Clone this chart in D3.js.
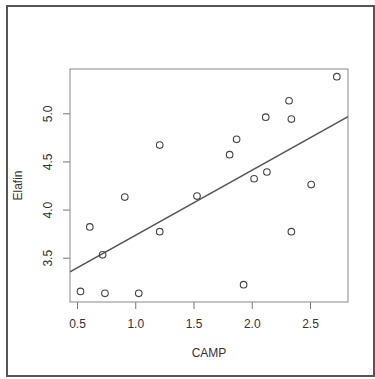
<!DOCTYPE html>
<html>
<head>
<meta charset="utf-8">
<script src="https://cdn.jsdelivr.net/npm/d3@7"></script>
<style>
  body { margin: 0; background: #fff; }
  text { font-family: "Liberation Sans", Arial, sans-serif; fill: #333; }
</style>
</head>
<body>
<div id="vis"></div>
<script>
// values
const camp   = [0.53, 0.61, 0.72, 0.74, 0.91, 1.03, 1.21, 1.21, 1.53, 1.81,
                1.87, 1.93, 2.02, 2.12, 2.13, 2.32, 2.34, 2.34, 2.51, 2.73];
const elafin = [3.15, 3.82, 3.53, 3.13, 4.13, 3.13, 4.67, 3.77, 4.14, 4.57,
                4.73, 3.22, 4.32, 4.96, 4.39, 5.13, 4.94, 3.77, 4.26, 5.38];
const xTicks = [0.5, 1.0, 1.5, 2.0, 2.5];
const yTicks = [3.5, 4.0, 4.5, 5.0];
// fitted line (intercept, slope) as drawn
const fit = [3.057, 0.675];

const W = 375, H = 379;
const box = { left: 70, right: 348, top: 69, bottom: 302 };

const svg = d3.select("#vis")
  .append("svg")
    .attr("width", W)
    .attr("height", H);

// outer frame
svg.append("rect")
  .attr("x", 7)
  .attr("y", 6)
  .attr("width", 367)
  .attr("height", 370)
  .attr("fill", "none")
  .attr("stroke", "#555")
  .attr("stroke-width", 2);

const x = d3.scaleLinear()
  .domain([0.44, 2.826])
  .range([box.left, box.right]);

const y = d3.scaleLinear()
  .domain([3.04, 5.46])
  .range([box.bottom, box.top]);

// x axis
const xAxis = svg.append("g")
  .attr("transform", `translate(0,${box.bottom})`)
  .call(d3.axisBottom(x).tickValues(xTicks).tickFormat(d3.format(".1f")).tickSize(7).tickPadding(10));
xAxis.select(".domain").remove();
xAxis.selectAll("line").attr("stroke", "#777");
xAxis.selectAll("text").style("font-size", "12px").attr("fill", "#2a2a2a");

// y axis, labels rotated like base R
const yAxis = svg.append("g")
  .attr("transform", `translate(${box.left},0)`)
  .call(d3.axisLeft(y).tickValues(yTicks).tickFormat(d3.format(".1f")).tickSize(7));
yAxis.select(".domain").remove();
yAxis.selectAll("line").attr("stroke", "#777");
yAxis.selectAll("text")
  .attr("x", null)
  .attr("dy", null)
  .attr("text-anchor", "middle")
  .attr("transform", d => `translate(${-22},0) rotate(-90)`)
  .style("font-size", "12px")
  .attr("fill", "#2a2a2a");
yAxis.selectAll(".tick text").attr("y", 4);

// plot box
svg.append("rect")
  .attr("x", box.left)
  .attr("y", box.top)
  .attr("width", box.right - box.left)
  .attr("height", box.bottom - box.top)
  .attr("fill", "none")
  .attr("stroke", "#888")
  .attr("stroke-width", 1);

// regression line clipped to the box
svg.append("clipPath").attr("id", "clip")
  .append("rect")
  .attr("x", box.left)
  .attr("y", box.top)
  .attr("width", box.right - box.left)
  .attr("height", box.bottom - box.top);

const xd = x.domain();
svg.append("line")
  .attr("clip-path", "url(#clip)")
  .attr("x1", x(xd[0]))
  .attr("y1", y(fit[0] + fit[1] * xd[0]))
  .attr("x2", x(xd[1]))
  .attr("y2", y(fit[0] + fit[1] * xd[1]))
  .attr("stroke", "#555")
  .attr("stroke-width", 1.5);

// points
svg.append("g")
  .selectAll("circle")
  .data(camp)
  .join("circle")
    .attr("cx", d => x(d))
    .attr("cy", (d, i) => y(elafin[i]))
    .attr("r", 3.3)
    .attr("fill", "none")
    .attr("stroke", "#444")
    .attr("stroke-width", 1.1);

// axis titles
svg.append("text")
  .attr("x", (box.left + box.right) / 2)
  .attr("y", 357)
  .attr("text-anchor", "middle")
  .style("font-size", "12px")
  .text("CAMP");

svg.append("text")
  .attr("transform", `translate(22,${(box.top + box.bottom) / 2}) rotate(-90)`)
  .attr("text-anchor", "middle")
  .style("font-size", "12px")
  .text("Elafin");
</script>
</body>
</html>
